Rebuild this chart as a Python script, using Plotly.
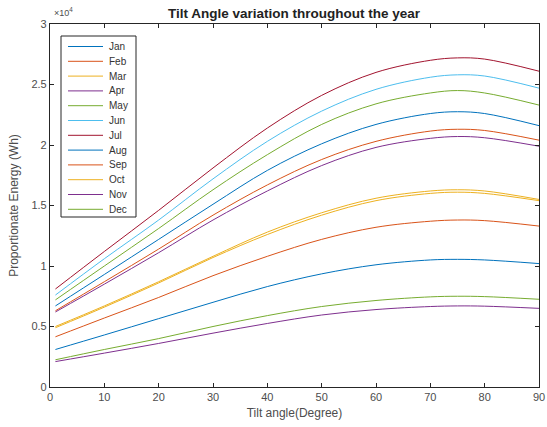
import plotly.graph_objects as go

angles = [1, 10, 20, 30, 40, 50, 60, 70, 75, 80, 90]

months = ["Jan", "Feb", "Mar", "Apr", "May", "Jun", "Jul", "Aug", "Sep", "Oct", "Nov", "Dec"]

# values in units of 1e4 Wh
jan = [0.31, 0.43, 0.565, 0.70, 0.83, 0.935, 1.01, 1.05, 1.055, 1.05, 1.02]
feb = [0.415, 0.57, 0.74, 0.92, 1.08, 1.22, 1.32, 1.37, 1.38, 1.375, 1.33]
mar = [0.50, 0.67, 0.87, 1.08, 1.28, 1.44, 1.56, 1.62, 1.63, 1.62, 1.55]
apr = [0.62, 0.85, 1.11, 1.38, 1.62, 1.83, 1.98, 2.055, 2.07, 2.06, 1.99]
may = [0.72, 1.00, 1.31, 1.63, 1.92, 2.17, 2.34, 2.43, 2.45, 2.43, 2.33]
jun = [0.76, 1.06, 1.38, 1.72, 2.03, 2.28, 2.46, 2.56, 2.58, 2.57, 2.47]
jul = [0.81, 1.12, 1.46, 1.81, 2.14, 2.41, 2.60, 2.70, 2.72, 2.71, 2.61]
aug = [0.67, 0.93, 1.22, 1.51, 1.79, 2.01, 2.17, 2.26, 2.275, 2.26, 2.16]
sep = [0.63, 0.87, 1.14, 1.42, 1.67, 1.88, 2.03, 2.115, 2.13, 2.12, 2.04]
oct_ = [0.49, 0.66, 0.86, 1.07, 1.26, 1.42, 1.54, 1.60, 1.61, 1.60, 1.54]
nov = [0.21, 0.28, 0.36, 0.445, 0.525, 0.595, 0.64, 0.665, 0.67, 0.668, 0.65]
dec = [0.225, 0.31, 0.40, 0.50, 0.59, 0.665, 0.715, 0.745, 0.75, 0.747, 0.725]

series = [jan, feb, mar, apr, may, jun, jul, aug, sep, oct_, nov, dec]

x_ticks = [0, 10, 20, 30, 40, 50, 60, 70, 80, 90]
y_ticks = [0, 5000, 10000, 15000, 20000, 25000, 30000]
y_ticktext = ["0", "0.5", "1", "1.5", "2", "2.5", "3"]

colors = ["#0072BD", "#D95319", "#EDB120", "#7E2F8E", "#77AC30", "#4DBEEE", "#A2142F"]

W, H = 547, 427
ML, MR, MT, MB = 50, 8, 24, 40
PW, PH = W - ML - MR, H - MT - MB
FONT = "Liberation Sans, Arial"


def px_x(p):
    return (p - ML) / PW


def px_y(p):
    return (H - MB - p) / PH


fig = go.Figure()
for i, (m, vals) in enumerate(zip(months, series)):
    fig.add_trace(go.Scatter(
        x=angles, y=[v * 1e4 for v in vals], mode="lines", name=m, showlegend=False,
        line=dict(color=colors[i % 7], width=1, shape="spline", smoothing=1.0),
    ))

axis_common = dict(
    showline=True, linecolor="#262626", linewidth=1.2, mirror="ticks",
    ticks="inside", ticklen=4, tickcolor="#262626", showgrid=False, zeroline=False,
    automargin=False,
    tickfont=dict(family=FONT, size=11, color="#4d4d4d"),
)

# manual legend box (MATLAB-style compact legend)
shapes = [dict(type="rect", xref="paper", yref="paper",
               x0=px_x(61), x1=px_x(136), y0=px_y(217), y1=px_y(36),
               line=dict(color="#262626", width=1), fillcolor="white", layer="above")]
annotations = []
for i, m in enumerate(months):
    yc = 46.5 + i * 14.8
    shapes.append(dict(type="line", xref="paper", yref="paper",
                       x0=px_x(68), x1=px_x(103), y0=px_y(yc), y1=px_y(yc),
                       line=dict(color=colors[i % 7], width=1), layer="above"))
    annotations.append(dict(text=m, xref="paper", yref="paper", x=px_x(107), y=px_y(yc),
                            xanchor="left", yanchor="middle", showarrow=False,
                            font=dict(family=FONT, size=10, color="#333")))

annotations.append(dict(text="×10<sup>4</sup>", x=px_x(52), y=px_y(20), xref="paper", yref="paper",
                        xanchor="left", yanchor="bottom", showarrow=False,
                        font=dict(family=FONT, size=9, color="#4d4d4d")))

fig.update_layout(
    width=W, height=H,
    template="none",
    margin=dict(l=ML, r=MR, t=MT, b=MB),
    paper_bgcolor="white", plot_bgcolor="white",
    title=dict(text="<b>Tilt Angle variation throughout the year</b>", x=294 / W, xref="container",
               xanchor="center", y=1 - 13 / H, yref="container", yanchor="middle",
               font=dict(family=FONT, size=13.5, color="#222")),
    xaxis=dict(range=[0, 90], tickvals=x_ticks,
               title=dict(text="Tilt angle(Degree)", standoff=6,
                          font=dict(family=FONT, size=12, color="#4d4d4d")),
               **axis_common),
    yaxis=dict(range=[0, 30000], tickvals=y_ticks, ticktext=y_ticktext,
               title=dict(text="Proportionate Energy (Wh)", standoff=10,
                          font=dict(family=FONT, size=12, color="#4d4d4d")),
               **axis_common),
    showlegend=False,
    shapes=shapes,
    annotations=annotations,
)

fig.write_html("out.html", config={"displayModeBar": False},
               post_script="document.body.style.margin='0';document.body.style.overflow='hidden';")
